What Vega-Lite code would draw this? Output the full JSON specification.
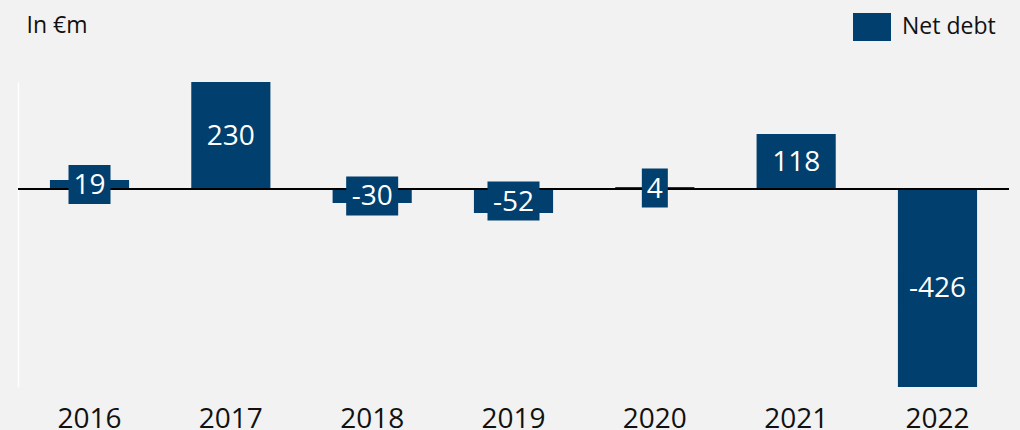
{
  "$schema": "https://vega.github.io/schema/vega-lite/v6.json",
  "autosize": "none",
  "width": 991,
  "height": 305,
  "padding": {"left": 18, "top": 82, "right": 11, "bottom": 43},
  "background": "#f2f2f2",
  "data": {"values": [
    {"year": "2016", "value": 19},
    {"year": "2017", "value": 230},
    {"year": "2018", "value": -30},
    {"year": "2019", "value": -52},
    {"year": "2020", "value": 4},
    {"year": "2021", "value": 118},
    {"year": "2022", "value": -426}
  ]},
  "layer": [
    {
      "encoding": {
        "y": {"field": "value", "type": "quantitative", "scale": {"domain": [-426, 230], "nice": false},
          "axis": {"title": "In €m", "titleAngle": 0, "titleX": 8, "titleY": -50, "titleAlign": "left", "titleBaseline": "alphabetic", "titleFont": "Open Sans", "titleFontSize": 23, "titleFontWeight": "normal", "titleColor": "#111111",
            "labels": false, "ticks": false, "grid": false, "domain": true, "domainColor": "#ffffff", "domainWidth": 1.5}}
      },
      "layer": [
        {
          "mark": {"type": "bar", "color": "#003f6e"},
          "encoding": {
            "x": {"field": "year", "type": "nominal", "sort": null,
              "scale": {"paddingInner": 0.44, "paddingOuter": 0.226},
              "axis": {"title": null, "labelAngle": 0, "domain": false, "ticks": false, "tickSize": 0, "labelPadding": 18, "labelFont": "Open Sans", "labelFontSize": 28, "labelColor": "#111111", "grid": false}},
            "color": {"datum": "Net debt", "type": "nominal", "scale": {"range": ["#003f6e"]},
              "legend": {"title": null, "orient": "none", "legendX": 835, "legendY": -74, "padding": 0, "symbolType": "M-1,-0.737H1V0.737H-1Z", "symbolSize": 1444, "symbolStrokeWidth": 0, "labelOffset": 11, "labelFont": "Open Sans", "labelFontSize": 23, "labelColor": "#111111"}}
          }
        },
        {
          "mark": {"type": "rule", "color": "#000000", "strokeWidth": 1.5},
          "encoding": {"y": {"datum": 0, "type": "quantitative"}}
        }
      ]
    },
    {
      "encoding": {
        "x": {"field": "year", "type": "nominal", "sort": null,
          "scale": {"paddingInner": 0.44, "paddingOuter": 0.226},
          "axis": {"title": null, "labelAngle": 0, "domain": false, "ticks": false, "tickSize": 0, "labelPadding": 18, "labelFont": "Open Sans", "labelFontSize": 28, "labelColor": "#111111", "grid": false}},
        "y": {"field": "value", "type": "quantitative", "scale": {"domain": [-852, 460], "nice": false}, "axis": null}
      },
      "layer": [
        {
          "mark": {"type": "point", "filled": true, "opacity": 1, "color": "#003f6e", "size": 400, "strokeWidth": 0},
          "encoding": {
            "shape": {"field": "year", "type": "nominal", "legend": null,
              "scale": {"domain": ["2016", "2017", "2018", "2019", "2020", "2021", "2022"],
                "range": ["M-2.1,-1.95H2.1V1.95H-2.1Z", "M-2.9,-1.95H2.9V1.95H-2.9Z", "M-2.6,-1.95H2.6V1.95H-2.6Z", "M-2.6,-1.95H2.6V1.95H-2.6Z", "M-1.3,-1.95H1.3V1.95H-1.3Z", "M-2.9,-1.95H2.9V1.95H-2.9Z", "M-3.4,-1.95H3.4V1.95H-3.4Z"]}}
          }
        },
        {
          "mark": {"type": "text", "color": "#ffffff", "font": "Open Sans", "fontSize": 28, "baseline": "middle", "align": "center", "dy": 1.5},
          "encoding": {"text": {"field": "value", "type": "nominal"}}
        }
      ]
    }
  ],
  "resolve": {"scale": {"y": "independent"}},
  "config": {"view": {"stroke": null}}
}
